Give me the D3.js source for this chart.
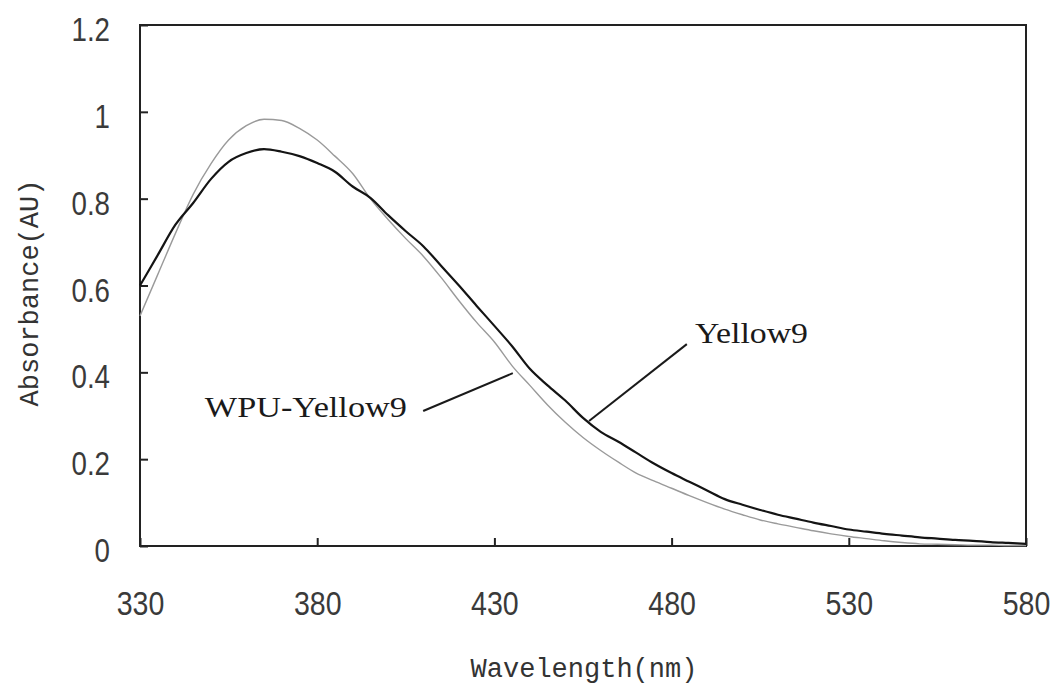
<!DOCTYPE html>
<html>
<head>
<meta charset="utf-8">
<script src="https://cdn.jsdelivr.net/npm/d3@7"></script>
<style>
  body { margin: 0; background: #fff; }
  svg { display: block; }
</style>
</head>
<body>
<div id="chart"></div>
<script>
// wavelengths (nm), read every 5 nm
const wavelengths = d3.range(330, 581, 5);

// Yellow9 (dark line)
const yellow9 = [
  0.60, 0.67, 0.74, 0.79, 0.845, 0.885, 0.905, 0.914, 0.908, 0.898,
  0.882, 0.862, 0.828, 0.802, 0.762, 0.725, 0.69, 0.645, 0.60, 0.553,
  0.507, 0.46, 0.408, 0.37, 0.335, 0.295, 0.263, 0.24, 0.215, 0.19,
  0.168, 0.148, 0.128, 0.108, 0.095, 0.083, 0.072, 0.063, 0.054, 0.046,
  0.038, 0.033, 0.028, 0.024, 0.02, 0.017, 0.014, 0.012, 0.009, 0.007, 0.005
];

// WPU-Yellow9 (light grey line)
const wpuYellow9 = [
  0.53, 0.625, 0.72, 0.81, 0.88, 0.935, 0.968, 0.983, 0.98, 0.962,
  0.935, 0.898, 0.858, 0.80, 0.752, 0.708, 0.667, 0.618, 0.565, 0.515,
  0.47, 0.415, 0.37, 0.325, 0.285, 0.25, 0.22, 0.193, 0.168, 0.15,
  0.133, 0.116, 0.1, 0.085, 0.072, 0.06, 0.051, 0.043, 0.035, 0.028,
  0.022, 0.017, 0.012, 0.008, 0.005, 0.004, 0.003, 0.002, 0.002, 0.001, 0.001
];

const xTicks = [330, 380, 430, 480, 530, 580];
const yTicks = [0, 0.2, 0.4, 0.6, 0.8, 1, 1.2];

const W = 1054, H = 685;
const margin = { top: 25, right: 28, bottom: 139, left: 140 };
const width = W - margin.left - margin.right;
const height = H - margin.top - margin.bottom;

const svg = d3.select("#chart").append("svg")
  .attr("width", W).attr("height", H);

const g = svg.append("g")
  .attr("transform", "translate(" + margin.left + "," + margin.top + ")");

const x = d3.scaleLinear().domain([330, 580]).range([0, width]);
const y = d3.scaleLinear().domain([0, 1.2]).range([height, 0]);

const tickFont = "'Liberation Sans', Arial, sans-serif";
const titleFont = "'Liberation Mono', 'DejaVu Sans Mono', monospace";
const squeeze = 0.84; // tick labels are tall and narrow in the original

// x axis (ticks pointing inward)
const xAxis = g.append("g")
  .attr("transform", "translate(0," + height + ")")
  .call(d3.axisBottom(x).tickValues(xTicks).tickSizeInner(-8).tickSizeOuter(0));
xAxis.select(".domain").remove();
xAxis.selectAll("line").attr("stroke", "#222").attr("stroke-width", 2);
xAxis.selectAll("text")
  .attr("font-family", tickFont).attr("font-size", 34).attr("fill", "#3a3a3a")
  .attr("dy", 0).attr("y", 69)
  .attr("transform", "scale(" + squeeze + ",1)");

// y axis (ticks pointing inward)
const yAxis = g.append("g")
  .call(d3.axisLeft(y).tickValues(yTicks).tickFormat(d3.format("~g")).tickSizeInner(-8).tickSizeOuter(0));
yAxis.select(".domain").remove();
yAxis.selectAll("line").attr("stroke", "#222").attr("stroke-width", 2);
yAxis.selectAll("text")
  .attr("font-family", tickFont).attr("font-size", 33).attr("fill", "#3a3a3a")
  .attr("x", -30 / squeeze).attr("dy", "0.47em")
  .attr("transform", "scale(" + squeeze + ",1)");

// frame
g.append("rect")
  .attr("x", 0).attr("y", 0).attr("width", width).attr("height", height)
  .attr("fill", "none").attr("stroke", "#222").attr("stroke-width", 2);

const line = d3.line()
  .x((d, i) => x(wavelengths[i]))
  .y(d => y(d))
  .curve(d3.curveMonotoneX);

g.append("path").datum(wpuYellow9)
  .attr("fill", "none").attr("stroke", "#9a9a9a").attr("stroke-width", 1.4)
  .attr("d", line);

g.append("path").datum(yellow9)
  .attr("fill", "none").attr("stroke", "#141414").attr("stroke-width", 2.2)
  .attr("d", line);

// annotations with leader lines
const leader = (x1, y1, x2, y2) => g.append("line")
  .attr("x1", x(x1)).attr("y1", y(y1)).attr("x2", x(x2)).attr("y2", y(y2))
  .attr("stroke", "#1a1a1a").attr("stroke-width", 2);

leader(456.7, 0.288, 484.3, 0.465);
leader(409.9, 0.311, 435.2, 0.398);

g.append("text")
  .attr("x", x(486.6)).attr("y", y(0.4675))
  .attr("font-family", "'Liberation Serif', 'Times New Roman', serif")
  .attr("font-size", 30).attr("fill", "#1a1a1a")
  .attr("textLength", 113).attr("lengthAdjust", "spacingAndGlyphs")
  .text("Yellow9");

g.append("text")
  .attr("x", x(405.3) - 202).attr("y", y(0.297))
  .attr("font-family", "'Liberation Serif', 'Times New Roman', serif")
  .attr("font-size", 30).attr("fill", "#1a1a1a")
  .attr("textLength", 202).attr("lengthAdjust", "spacingAndGlyphs")
  .text("WPU-Yellow9");

// axis titles
svg.append("text")
  .attr("x", margin.left + width / 2 + 1).attr("y", 677)
  .attr("text-anchor", "middle")
  .attr("font-family", titleFont).attr("font-size", 27).attr("fill", "#333")
  .text("Wavelength(nm)");

svg.append("text")
  .attr("transform", "translate(38,293) rotate(-90)")
  .attr("text-anchor", "middle")
  .attr("font-family", titleFont).attr("font-size", 27).attr("fill", "#333")
  .text("Absorbance(AU)");
</script>
</body>
</html>
